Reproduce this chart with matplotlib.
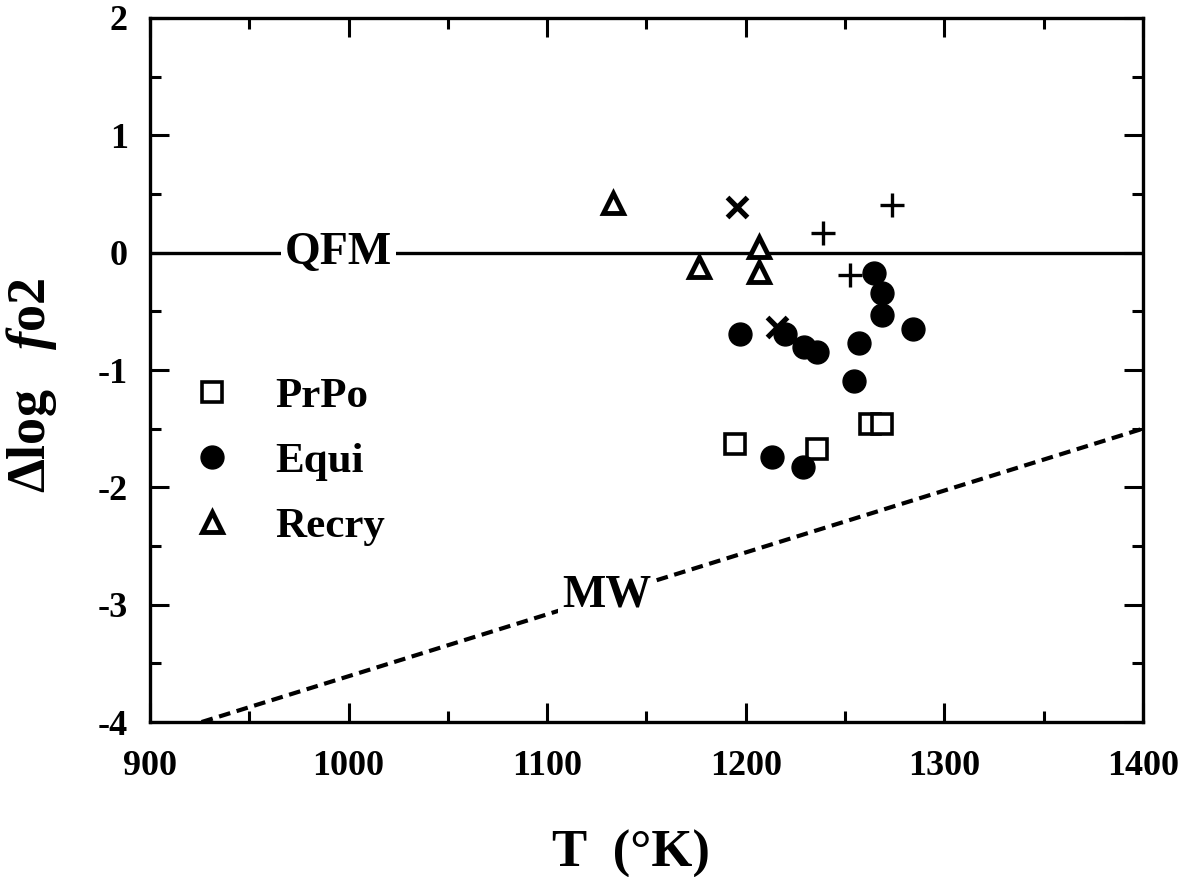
import matplotlib

matplotlib.use("Agg")
import matplotlib.pyplot as plt
from matplotlib.ticker import MultipleLocator

plt.rcParams["font.family"] = ["Liberation Serif", "DejaVu Serif"]
plt.rcParams["font.weight"] = "bold"
plt.rcParams["axes.unicode_minus"] = False
plt.rcParams["mathtext.fontset"] = "custom"
plt.rcParams["mathtext.rm"] = "Liberation Serif:bold"
plt.rcParams["mathtext.it"] = "Liberation Serif:bold:italic"

# PrPo (open squares)
prpo_T = [1194.6, 1235.8, 1262.5, 1268.6]
prpo_dlog = [-1.63, -1.67, -1.46, -1.46]

# Equi (filled circles)
equi_T = [1197.1, 1219.7, 1229.3, 1235.8, 1264.6, 1268.6, 1268.6,
          1284.2, 1257.0, 1254.5, 1213.2, 1228.8]
equi_dlog = [-0.69, -0.69, -0.80, -0.85, -0.17, -0.34, -0.53,
             -0.65, -0.77, -1.09, -1.74, -1.83]

# Recry (open triangles)
recry_T = [1133.1, 1176.4, 1206.7, 1206.7]
recry_dlog = [0.42, -0.12, 0.05, -0.165]

# unlabelled crosses and pluses
cross_T = [1195.6, 1215.7]
cross_dlog = [0.39, -0.63]
plus_T = [1273.6, 1238.9, 1252.5]
plus_dlog = [0.41, 0.17, -0.19]

# buffer lines
qfm_T = [900, 1400]
qfm_dlog = [0.0, 0.0]
mw_T = [926, 1400]
mw_dlog = [-4.0, -1.5]

fig = plt.figure(figsize=(11.92, 8.77), dpi=100)
ax = fig.add_axes([0.1258, 0.1767, 0.833, 0.8028])

ax.plot(qfm_T, qfm_dlog, color="black", lw=2.4, zorder=1)
ax.plot(mw_T, mw_dlog, color="black", lw=3.0, dashes=(2.8, 1.6), zorder=1)
ax.text(995, 0.0, "QFM", fontsize=33, fontweight="bold", ha="center", va="center",
        bbox=dict(facecolor="white", edgecolor="none", pad=3), zorder=2)
ax.text(1130, -2.92, "MW", fontsize=33, fontweight="bold", ha="center", va="center",
        bbox=dict(facecolor="white", edgecolor="none", pad=3), zorder=2)

ax.plot(prpo_T, prpo_dlog, ls="none", marker="s", ms=14.5, mfc="white", mec="black",
        mew=2.6, label="PrPo", zorder=3)
ax.plot(equi_T, equi_dlog, ls="none", marker="o", ms=16.5, mfc="black", mec="black",
        label="Equi", zorder=4)
ax.plot(recry_T, recry_dlog, ls="none", marker="^", ms=14, mfc="white", mec="black",
        mew=3.5, label="Recry", zorder=3)
ax.plot(cross_T, cross_dlog, ls="none", marker="x", ms=14, mec="black", mew=3.8, zorder=5)
ax.plot(plus_T, plus_dlog, ls="none", marker="+", ms=17, mec="black", mew=2.4, zorder=5)

ax.set_xlim(900, 1400)
ax.set_ylim(-4, 2)
ax.xaxis.set_major_locator(MultipleLocator(100))
ax.xaxis.set_minor_locator(MultipleLocator(50))
ax.yaxis.set_major_locator(MultipleLocator(1))
ax.yaxis.set_minor_locator(MultipleLocator(0.5))
ax.tick_params(which="both", direction="in", top=True, right=True, width=2.2)
ax.tick_params(which="major", length=14)
ax.tick_params(which="minor", length=8)
ax.tick_params(axis="x", which="major", pad=20, labelsize=26)
ax.tick_params(axis="y", which="major", pad=16, labelsize=26)
for lbl in ax.get_xticklabels() + ax.get_yticklabels():
    lbl.set_fontweight("bold")
for sp in ax.spines.values():
    sp.set_linewidth(2.4)

ax.set_xlabel("T  (°K)", fontsize=38, fontweight="bold", labelpad=34)
ax.xaxis.label.set_x(0.484)
ax.set_ylabel("Δlog   $\\it{f}$o2", fontsize=39, fontweight="bold", labelpad=28)
ax.yaxis.label.set_y(0.479)

ax.legend(loc="upper left", bbox_to_anchor=(0.041, 0.49), frameon=False,
          fontsize=31, numpoints=1, handlelength=1.0, handletextpad=0.97,
          labelspacing=0.6, borderpad=0, borderaxespad=0)

fig.savefig("out.png", dpi=100)
